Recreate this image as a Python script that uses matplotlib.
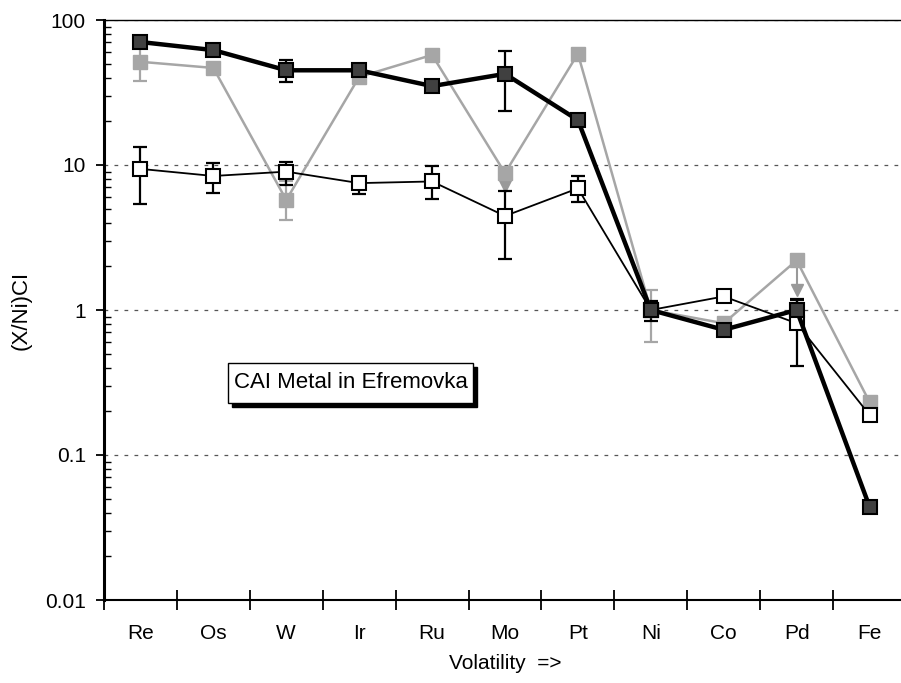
import numpy as np
import matplotlib
matplotlib.use('Agg')
import matplotlib.pyplot as plt
from matplotlib.patches import Rectangle
from matplotlib.ticker import FixedLocator, NullFormatter

plt.rcParams['font.family'] = ['Liberation Sans', 'DejaVu Sans']

# elements ordered by volatility
elements = ['Re', 'Os', 'W', 'Ir', 'Ru', 'Mo', 'Pt', 'Ni', 'Co', 'Pd', 'Fe']

# dark filled squares, thick line
dark_vals = [70.5, 62, 45, 45, 35, 42.5, 20.4, 1.0, 0.73, 1.0, 0.044]
dark_lo = [np.nan, np.nan, 37.5, np.nan, np.nan, 23.7, np.nan, 0.84, np.nan, 0.9, np.nan]
dark_hi = [np.nan, np.nan, 53, np.nan, np.nan, 61, np.nan, 1.15, np.nan, 1.17, np.nan]

# grey squares
grey_vals = [51.5, 46.7, 5.74, 40.5, 57.4, 8.8, 58.5, 1.0, 0.81, 2.2, 0.232]
grey_lo = [38, np.nan, 4.2, np.nan, np.nan, np.nan, np.nan, 0.6, 0.75, np.nan, np.nan]
grey_hi = [65, np.nan, 7.8, np.nan, np.nan, np.nan, np.nan, 1.37, 0.87, np.nan, np.nan]
# upper-limit arrows (grey triangles)
arrow_idx = [5, 9]
arrow_vals = [7.2, 1.37]

# open squares
open_vals = [9.4, 8.4, 9.0, 7.5, 7.7, 4.45, 6.9, 1.0, 1.24, 0.81, 0.189]
open_lo = [5.4, 6.4, 7.3, 6.3, 5.8, 2.25, 5.6, np.nan, 1.15, 0.413, np.nan]
open_hi = [13.4, 10.4, 10.5, 8.0, 9.9, 6.65, 8.4, np.nan, 1.3, 1.2, np.nan]

W, H = 901, 683
fig = plt.figure(figsize=(W/100, H/100), dpi=100)
ax = fig.add_axes([104/W, 83/H, 802/W, 580/H])

x = np.arange(len(elements))


def errs(ax, vals, lo, hi, color, lw, cap):
    vals = np.array(vals); lo = np.array(lo); hi = np.array(hi)
    m = np.isfinite(lo)
    ax.errorbar(x[m], vals[m], yerr=[vals[m]-lo[m], hi[m]-vals[m]], fmt='none',
                ecolor=color, elinewidth=lw, capsize=cap, capthick=lw, zorder=2)


# grey series
errs(ax, grey_vals, grey_lo, grey_hi, '#a6a6a6', 1.6, 5)
for i, v in zip(arrow_idx, arrow_vals):
    ax.plot([x[i], x[i]], [grey_vals[i], v], color='#999999', lw=1.5, zorder=2)
ax.plot(np.array(arrow_idx), arrow_vals, 'v', ms=9, color='#999999', zorder=2)
ax.plot(x, grey_vals, '-s', color='#a6a6a6', lw=1.8, ms=10, mfc='#a6a6a6', mec='#a6a6a6', zorder=3)

# open series
errs(ax, open_vals, open_lo, open_hi, 'black', 1.6, 5)
ax.plot(x, open_vals, '-s', color='black', lw=1.3, ms=10, mfc='white', mec='black', mew=1.5, zorder=4)

# dark series
errs(ax, dark_vals, dark_lo, dark_hi, 'black', 1.6, 5)
ax.plot(x, dark_vals, '-s', color='black', lw=3.2, ms=10.5, mfc='#404040', mec='black', mew=1.5, zorder=5)

ax.set_yscale('log')
ax.set_ylim(0.01, 100)
ax.set_xlim(-0.5, 10.5)

ax.set_yticks([0.01, 0.1, 1, 10, 100])
ax.set_yticklabels(['0.01', '0.1', '1', '10', '100'])
ax.yaxis.set_minor_locator(FixedLocator([m*10.0**e for e in range(-2, 2) for m in range(2, 10)]))
ax.yaxis.set_minor_formatter(NullFormatter())
ax.tick_params(axis='y', which='major', direction='out', length=6, width=1.3, labelsize=15, pad=7)
ax.tick_params(axis='y', which='minor', direction='in', length=5, width=1.0)

ax.set_xticks(x)
ax.set_xticklabels(elements)
ax.xaxis.set_minor_locator(FixedLocator(np.arange(-0.5, 10.6, 1.0)))
ax.tick_params(axis='x', which='major', length=0, labelsize=15, pad=17)
ax.tick_params(axis='x', which='minor', direction='inout', length=14, width=1.3)

for yv in [0.1, 1, 10, 100]:
    ax.axhline(yv, color='#555555', lw=0.9, ls=(0, (3, 5)), zorder=1)

ax.spines['left'].set_linewidth(2.2)
ax.spines['bottom'].set_linewidth(1.5)
ax.spines['top'].set_linewidth(1.0)
ax.spines['right'].set_visible(False)

ax.set_xlabel('Volatility  =>', fontsize=15, labelpad=8)
fig.text(21/W, 1-310/H, '(X/Ni)CI', rotation=90, ha='center', va='center', fontsize=16)

# label box with shadow
bx, by, bw, bh = 228, 363, 245, 40
fig.patches.append(Rectangle(((bx+4)/W, 1-(by+bh+4)/H), bw/W, bh/H, transform=fig.transFigure,
                             fc='black', ec='black', zorder=10))
fig.patches.append(Rectangle((bx/W, 1-(by+bh)/H), bw/W, bh/H, transform=fig.transFigure,
                             fc='white', ec='black', lw=1.0, zorder=11))
fig.text((bx+bw/2)/W, 1-(by+bh/2)/H, 'CAI Metal in Efremovka', ha='center', va='center',
         fontsize=16, zorder=12)

fig.savefig('out.png', dpi=100)
